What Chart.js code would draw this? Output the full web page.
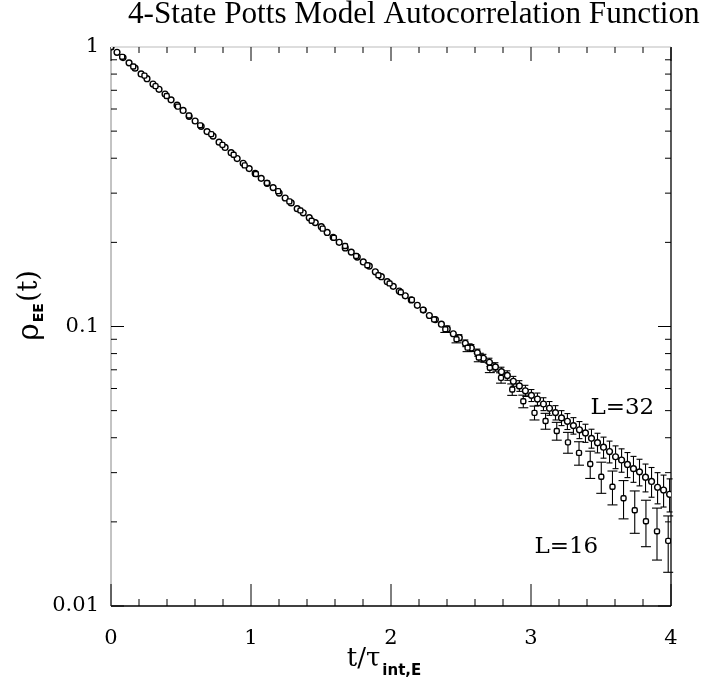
<!DOCTYPE html>
<html>
<head>
<meta charset="utf-8">
<script src="https://cdn.jsdelivr.net/npm/chart.js@4.4.1/dist/chart.umd.min.js"></script>
<style>
  html, body { margin: 0; padding: 0; background: #fff; }
  #wrap { width: 703px; height: 683px; }
</style>
</head>
<body>
<div id="wrap"><canvas id="c" width="703" height="683"></canvas></div>
<script>
// ===== Data =====
const titleText = "4-State Potts Model Autocorrelation Function";
const seriesNames = ["L=32", "L=16"];

const xTickValues = [0, 1, 2, 3, 4];
const xTickLabels = ["0", "1", "2", "3", "4"];
const yTickValues = [0.01, 0.1, 1];
const yTickLabels = ["0.01", "0.1", "1"];

// L=32
const t32 = [
  0.000, 0.043, 0.086, 0.129, 0.172, 0.215, 0.257, 0.300, 0.343, 0.386,
  0.429, 0.472, 0.515, 0.558, 0.601, 0.644, 0.686, 0.729, 0.772, 0.815,
  0.858, 0.901, 0.944, 0.987, 1.030, 1.073, 1.115, 1.158, 1.201, 1.244,
  1.287, 1.330, 1.373, 1.416, 1.459, 1.502, 1.544, 1.587, 1.630, 1.673,
  1.716, 1.759, 1.802, 1.845, 1.888, 1.931, 1.973, 2.016, 2.059, 2.102,
  2.145, 2.188, 2.231, 2.274, 2.317, 2.360, 2.402, 2.445, 2.488, 2.531,
  2.574, 2.617, 2.660, 2.703, 2.746, 2.789, 2.831, 2.874, 2.917, 2.960,
  3.003, 3.046, 3.089, 3.132, 3.175, 3.218, 3.260, 3.303, 3.346, 3.389,
  3.432, 3.475, 3.518, 3.561, 3.604, 3.647, 3.689, 3.732, 3.775, 3.818,
  3.861, 3.904, 3.947, 3.990,
];
const rho32 = [
  1.000, 0.9574, 0.9166, 0.8775, 0.8401, 0.8010, 0.7701, 0.7372, 0.7058, 0.6790,
  0.6470, 0.6194, 0.5930, 0.5650, 0.5436, 0.5204, 0.4982, 0.4800, 0.4567, 0.4372,
  0.4186, 0.3990, 0.3836, 0.3672, 0.3529, 0.3389, 0.3254, 0.3140, 0.3001, 0.2882,
  0.2768, 0.2640, 0.2552, 0.2451, 0.2354, 0.2275, 0.2170, 0.2084, 0.2001, 0.1910,
  0.1846, 0.1772, 0.1702, 0.1645, 0.1569, 0.1507, 0.1447, 0.1392, 0.1339, 0.1288,
  0.1245, 0.1191, 0.1145, 0.1095, 0.1059, 0.1019, 0.0980, 0.0942, 0.0912, 0.0871,
  0.0838, 0.0806, 0.0770, 0.0745, 0.0717, 0.0689, 0.0668, 0.0637, 0.0613, 0.0589,
  0.0567, 0.0550, 0.0528, 0.0510, 0.0492, 0.0471, 0.0458, 0.0442, 0.0427, 0.0416,
  0.0398, 0.0384, 0.0370, 0.0357, 0.0342, 0.0333, 0.0321, 0.0310, 0.0302, 0.0289,
  0.0279, 0.0266, 0.0260, 0.0251,
];
const err32 = [
  0.001, 0.001, 0.001, 0.001, 0.001, 0.001, 0.001, 0.001, 0.001, 0.001,
  0.001, 0.001, 0.001, 0.001, 0.001, 0.001, 0.001, 0.001, 0.001, 0.001,
  0.001, 0.001, 0.001, 0.001, 0.0015, 0.0015, 0.0015, 0.0015, 0.0015, 0.0015,
  0.0015, 0.0015, 0.0015, 0.0015, 0.0015, 0.0015, 0.0015, 0.0015, 0.0015, 0.0015,
  0.0015, 0.0015, 0.0015, 0.0015, 0.0015, 0.0015, 0.0015, 0.002, 0.002, 0.002,
  0.002, 0.002, 0.002, 0.002, 0.002, 0.002, 0.002, 0.0023, 0.0023, 0.0024,
  0.0024, 0.0024, 0.0025, 0.0025, 0.0025, 0.0026, 0.0026, 0.0026, 0.0027, 0.0027,
  0.0028, 0.0028, 0.0028, 0.0029, 0.0029, 0.0029, 0.003, 0.003, 0.003, 0.0031,
  0.0031, 0.0031, 0.0032, 0.0032, 0.0032, 0.0032, 0.0033, 0.0033, 0.0033, 0.0033,
  0.0034, 0.0034, 0.0034, 0.0034,
];

// L=16
const t16 = [
  0.000, 0.080, 0.159, 0.239, 0.318, 0.398, 0.478, 0.557, 0.637, 0.716,
  0.796, 0.876, 0.955, 1.035, 1.114, 1.194, 1.274, 1.353, 1.433, 1.512,
  1.592, 1.672, 1.751, 1.831, 1.910, 1.990, 2.070, 2.149, 2.229, 2.308,
  2.388, 2.468, 2.547, 2.627, 2.706, 2.786, 2.866, 2.945, 3.025, 3.104,
  3.184, 3.264, 3.343, 3.423, 3.502, 3.582, 3.661, 3.741, 3.821, 3.900,
  3.980,
];
const rho16 = [
  1.000, 0.9222, 0.8512, 0.7900, 0.7246, 0.6682, 0.6120, 0.5687, 0.5245, 0.4880,
  0.4465, 0.4117, 0.3770, 0.3512, 0.3261, 0.3050, 0.2803, 0.2602, 0.2390, 0.2239,
  0.2076, 0.1940, 0.1787, 0.1657, 0.1525, 0.1426, 0.1326, 0.1245, 0.1147, 0.1060,
  0.0978, 0.0900, 0.0840, 0.0775, 0.0712, 0.0655, 0.0595, 0.0540, 0.0491, 0.0459,
  0.0423, 0.0385, 0.0353, 0.0322, 0.0290, 0.0267, 0.0243, 0.0220, 0.0201, 0.0185,
  0.0171,
];
const err16 = [
  0.0015, 0.0015, 0.0015, 0.0015, 0.0015, 0.0015, 0.0015, 0.0015, 0.0015, 0.0015,
  0.0015, 0.0015, 0.0015, 0.002, 0.002, 0.002, 0.002, 0.002, 0.002, 0.002,
  0.002, 0.002, 0.002, 0.002, 0.002, 0.002, 0.0024, 0.0024, 0.0025, 0.0025,
  0.0026, 0.0026, 0.0027, 0.0027, 0.0028, 0.0028, 0.0028, 0.0028, 0.0028, 0.003,
  0.0031, 0.0033, 0.0034, 0.0036, 0.0037, 0.0037, 0.0038, 0.0038, 0.0038, 0.0039,
  0.0039,
];

// ===== Helpers =====
const SERIF = "'DejaVu Serif', serif";
const toPoints = (xs, ys) => xs.map((x, i) => ({ x, y: ys[i] }));

function seg(ctx, x1, y1, x2, y2) {
  ctx.beginPath();
  ctx.moveTo(x1, y1);
  ctx.lineTo(x2, y2);
  ctx.stroke();
}

// error bars, drawn from the y scale
const errorBars = {
  id: "errorBars",
  beforeDatasetsDraw(chart) {
    const { ctx } = chart;
    const y = chart.scales.y;
    chart.data.datasets.forEach((ds, i) => {
      const meta = chart.getDatasetMeta(i);
      ctx.save();
      ctx.strokeStyle = "#000";
      ctx.lineWidth = 1.1;
      meta.data.forEach((pt, k) => {
        const v = ds.data[k].y;
        const e = ds.errors[k];
        const top = y.getPixelForValue(v + e);
        const bot = y.getPixelForValue(Math.max(v - e, 1e-4));
        if (bot - top < 6) return;
        seg(ctx, pt.x, top, pt.x, bot);
        seg(ctx, pt.x - ds.capHalf, top, pt.x + ds.capHalf, top);
        seg(ctx, pt.x - ds.capHalf, bot, pt.x + ds.capHalf, bot);
      });
      ctx.restore();
    });
  },
};

// frame + inward ticks on all four sides
const frameTicks = {
  id: "frameTicks",
  beforeDatasetsDraw(chart) {
    const { ctx, chartArea: a } = chart;
    const { x, y } = chart.scales;
    ctx.save();
    ctx.strokeStyle = "#000";
    ctx.lineWidth = 1.3;
    seg(ctx, a.left, a.bottom, a.right, a.bottom);
    seg(ctx, a.right, a.top, a.right, a.bottom);
    ctx.strokeStyle = "#888";
    ctx.lineWidth = 1;
    seg(ctx, a.left, a.top, a.left, a.bottom);
    ctx.strokeStyle = "#bbb";
    seg(ctx, a.left, a.top, a.right, a.top);

    ctx.strokeStyle = "#000";
    ctx.lineWidth = 1;
    for (let k = 0; k <= 20; k++) {
      const px = x.getPixelForValue(k * 0.2);
      const len = k % 5 === 0 ? 22 : 7;
      seg(ctx, px, a.bottom, px, a.bottom - len);
      seg(ctx, px, a.top, px, a.top + (k % 5 === 0 ? 14 : 6));
    }
    [0.01, 0.1].forEach((dec) => {
      for (let m = 1; m <= 9; m++) {
        const py = y.getPixelForValue(m * dec);
        const len = m === 1 ? 13 : 6;
        seg(ctx, a.left, py, a.left + len, py);
        seg(ctx, a.right, py, a.right - len, py);
      }
    });
    ctx.restore();
  },
};

// title, axis titles, series labels
const texts = {
  id: "texts",
  afterDraw(chart) {
    const { ctx, chartArea: a } = chart;
    const { x, y } = chart.scales;
    ctx.save();
    ctx.fillStyle = "#000";
    ctx.textBaseline = "middle";

    // title, fitted to its width in the picture
    ctx.font = "28px 'Liberation Serif', serif";
    const w = ctx.measureText(titleText).width;
    const size = (28 * 572) / w;
    ctx.font = `${size}px 'Liberation Serif', serif`;
    ctx.textAlign = "left";
    ctx.fillText(titleText, 128, 15);

    // x title: t/τ_int,E
    const mainFont = `26px ${SERIF}`;
    const subFont = "bold 15px 'DejaVu Sans', sans-serif";
    const main = "t/\u03c4";
    const sub = "int,E";
    ctx.font = mainFont;
    const mw = ctx.measureText(main).width;
    ctx.font = subFont;
    const sw = ctx.measureText(sub).width;
    const sx = 384 - (mw + sw + 2) / 2;
    ctx.font = mainFont;
    ctx.fillText(main, sx, 659);
    ctx.font = subFont;
    ctx.fillText(sub, sx + mw + 2, 671);

    // y title: ρ_EE(t)
    ctx.translate(30, 305);
    ctx.rotate(-Math.PI / 2);
    const parts = [
      ["\u03c1", `30px ${SERIF}`, 0],
      ["EE", "bold 14px 'DejaVu Sans', sans-serif", 9],
      ["(t)", `27px ${SERIF}`, 0],
    ];
    let total = 0;
    parts.forEach(([s, f]) => {
      ctx.font = f;
      total += ctx.measureText(s).width + 1;
    });
    let px = -total / 2;
    parts.forEach(([s, f, dy]) => {
      ctx.font = f;
      ctx.fillText(s, px, dy);
      px += ctx.measureText(s).width + 1;
    });
    ctx.restore();

    // series labels
    ctx.save();
    ctx.fillStyle = "#000";
    ctx.textBaseline = "middle";
    ctx.textAlign = "right";
    ctx.font = `23px ${SERIF}`;
    ctx.fillText(seriesNames[0], x.getPixelForValue(3.88), y.getPixelForValue(0.051));
    ctx.fillText(seriesNames[1], x.getPixelForValue(3.48), y.getPixelForValue(0.0163));
    ctx.restore();
  },
};

// ===== Chart =====
new Chart(document.getElementById("c"), {
  type: "scatter",
  data: {
    datasets: [
      {
        label: seriesNames[1],
        data: toPoints(t16, rho16),
        errors: err16,
        capHalf: 5,
        pointStyle: "rectRounded",
        pointRadius: 2.9,
        borderWidth: 1.4,
        borderColor: "#000",
        backgroundColor: "#fff",
      },
      {
        label: seriesNames[0],
        data: toPoints(t32, rho32),
        errors: err32,
        capHalf: 3,
        pointStyle: "circle",
        pointRadius: 2.9,
        borderWidth: 1.4,
        borderColor: "#000",
        backgroundColor: "#fff",
      },
    ],
  },
  options: {
    responsive: false,
    animation: false,
    devicePixelRatio: 1,
    layout: { padding: { left: 0, top: 47, right: 32, bottom: 0 } },
    plugins: { legend: { display: false }, tooltip: { enabled: false } },
    scales: {
      x: {
        type: "linear",
        min: 0,
        max: 4,
        grid: { display: false, drawTicks: false },
        border: { display: false },
        afterBuildTicks: (s) => {
          s.ticks = xTickValues.map((v) => ({ value: v }));
        },
        afterFit: (s) => {
          s.height = 77;
        },
        ticks: {
          padding: 20,
          color: "#000",
          font: { family: SERIF, size: 21 },
          callback: (v, i) => xTickLabels[i],
          maxRotation: 0,
        },
      },
      y: {
        type: "logarithmic",
        min: 0.01,
        max: 1,
        grid: { display: false, drawTicks: false },
        border: { display: false },
        afterBuildTicks: (s) => {
          s.ticks = yTickValues.map((v) => ({ value: v }));
        },
        afterFit: (s) => {
          s.width = 111;
        },
        ticks: {
          padding: 12,
          color: "#000",
          font: { family: SERIF, size: 21 },
          callback: (v, i) => yTickLabels[i],
        },
      },
    },
  },
  plugins: [frameTicks, errorBars, texts],
});
</script>
</body>
</html>
